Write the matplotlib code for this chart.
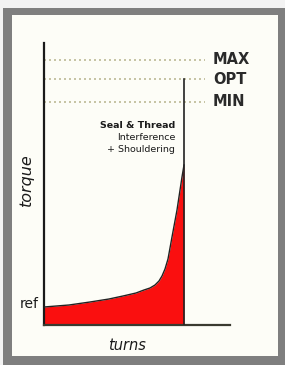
import matplotlib
matplotlib.use("Agg")
import matplotlib.pyplot as plt
from matplotlib.patches import Rectangle

# ---- data ----
turns = [0, 25, 46, 65, 79, 92, 100, 106, 111, 115, 118, 121, 124, 128, 133, 138, 140]
torque = [18, 20, 23, 26, 29, 32, 35, 37, 40, 44, 49, 56, 66, 88, 115, 148, 160]
level_names = ["MAX", "OPT", "MIN"]
level_values = [265, 246, 223]
ref_value = 19
annotation_lines = ["Seal & Thread", "Interference", "+ Shouldering"]

W, H = 285, 365
fig = plt.figure(figsize=(W / 100, H / 100), dpi=100)
fig.patch.set_facecolor("#f3f3f3")

def px_rect(x0, y0, x1, y1, color):
    fig.patches.append(Rectangle((x0 / W, 1 - y1 / H), (x1 - x0) / W, (y1 - y0) / H,
                                 transform=fig.transFigure, facecolor=color,
                                 edgecolor="none", zorder=-5))

px_rect(3, 8, 285, 365, "#7f7f7f")
px_rect(12, 15, 278, 356, "#fdfdf7")

# axes placed in pixel terms: left 44, right 230, top 43, bottom 325
L, R, T, B = 44, 230, 43, 325
ax = fig.add_axes([L / W, 1 - B / H, (R - L) / W, (B - T) / H])
ax.set_facecolor("none")
ax.set_xlim(0, 186)
ax.set_ylim(0, 282)
for s in ["top", "right"]:
    ax.spines[s].set_visible(False)
ax.spines["left"].set_linewidth(1.6)
ax.spines["left"].set_color("#1a1a1a")
ax.spines["bottom"].set_linewidth(1.6)
ax.spines["bottom"].set_color("#3a3a30")
ax.set_xticks([])
ax.set_yticks([])

# red filled curve
ax.fill_between(turns, 0, torque, color="#fa0f0f", linewidth=0, zorder=2)
ax.plot(turns, torque, color="#222222", linewidth=1.0, zorder=3)
# vertical line up to OPT
ax.plot([turns[-1], turns[-1]], [0, level_values[1]], color="#222222", linewidth=1.2, zorder=3)

# dotted levels
for name, v in zip(level_names, level_values):
    ax.plot([0, 161], [v, v], linestyle=(0, (1.2, 1.8)), color="#bdb995", linewidth=1.2, zorder=1)
    ax.text(169, v, name, ha="left", va="center", fontsize=10.5, fontweight="bold",
            family="DejaVu Sans", color="#2a2a2a", clip_on=False)

# annotation
ann_y = [200, 188, 175]
for i, (t, y) in enumerate(zip(annotation_lines, ann_y)):
    ax.text(131, y, t, ha="right", va="center", fontsize=6.8,
            fontweight="bold" if i == 0 else "normal",
            family="DejaVu Sans", color="#1a1a1a", clip_on=False)

ax.text(-5, ref_value + 2, "ref", ha="right", va="center", fontsize=10,
        family="DejaVu Sans", color="#1a1a1a", clip_on=False)
ax.text(83, -20, "turns", ha="center", va="center", fontsize=10.5, style="italic",
        family="DejaVu Sans", color="#1a1a1a", clip_on=False)
ax.text(-18, 145, "torque", ha="center", va="center", fontsize=11.5, style="italic",
        rotation=90, family="DejaVu Sans", color="#1a1a1a", clip_on=False)

fig.savefig("out.png", dpi=100, facecolor=fig.get_facecolor())
